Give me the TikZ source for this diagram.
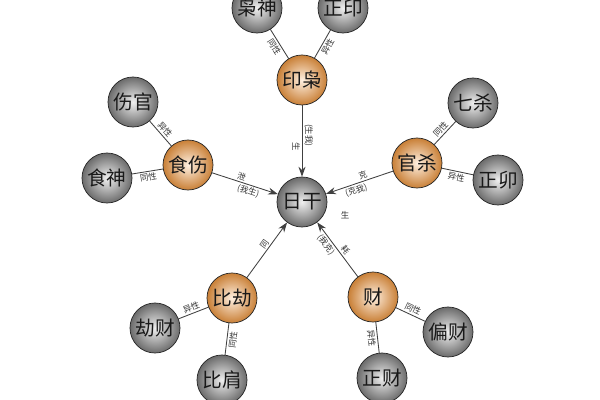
\documentclass[tikz,border=0pt]{standalone}
\usepackage{fontspec}
\newfontfamily\cjk{Noto Sans CJK SC}
\usetikzlibrary{arrows.meta}
\begin{document}
\begin{tikzpicture}[x=0.025cm, y=-0.025cm, font=\cjk, line join=round, line cap=round, >={Stealth[length=7pt,width=5pt]},
  ball/.style={circle, draw=black!85, line width=0.5pt, minimum size=1.25cm, inner sep=0pt, text=black!90, font=\cjk\fontsize{14}{14}\selectfont},
  grey/.style={ball, inner color=black!6, outer color=black!58},
  gold/.style={ball, inner color=orange!12, outer color=brown!85!orange},
  lab/.style={font=\cjk\fontsize{6}{6}\selectfont, text=black!80, inner sep=1.2pt, sloped},
  link/.style={draw=black!75, line width=0.6pt}]
\useasboundingbox (0,0) rectangle (600,400);
\clip (0,0) rectangle (600,400);
\fill[white] (0,0) rectangle (600,400);
% balls
\node[grey] (ri) at (302,202) {日干};
\foreach \n/\p/\t in {yx/{302,80}/印枭, ss/{188,165}/食伤, gs/{417,163}/官杀, bj/{232,298}/比劫, cai/{373,297}/财}
  \node[gold] (\n) at (\p) {\t};
\foreach \n/\p/\t in {xs/{257,8}/枭神, zy/{343,8}/正印, sg/{133,102}/伤官, shen/{107,178}/食神, qs/{473,103}/七杀, zg/{498,180}/正卯, jc/{155,328}/劫财, bjian/{222,380}/比肩, pc/{448,332}/偏财, zc/{382,378}/正财}
  \node[grey] (\n) at (\p) {\t};
% to the day master
\draw[link,->] (yx) -- node[lab, below, pos=0.58]{生} node[lab, above, pos=0.42]{(生我)} (ri);
\draw[link,->] (ss) -- node[lab, above, pos=0.42]{泄} node[lab, below, pos=0.58]{(我生)} (ri);
\draw[link,->] (gs) -- node[lab, above, pos=0.42]{克} node[lab, below, pos=0.58]{(克我)} (ri);
\draw[link,->] (bj) -- node[lab, above, pos=0.55]{同} (ri);
\draw[link,->] (cai) -- node[lab, above, pos=0.42]{耗} node[lab, below, pos=0.66]{(我克)} (ri);
\node[lab, sloped=false] (sheng) at (345,215) {生};
% same and different
\draw[link] (yx) -- node[lab, below]{同性} (xs);
\draw[link] (yx) -- node[lab, below]{异性} (zy);
\draw[link] (ss) -- node[lab, above, pos=0.5]{异性} (sg);
\draw[link] (ss) -- node[lab, below]{同性} (shen);
\draw[link] (gs) -- node[lab, above, pos=0.5]{同性} (qs);
\draw[link] (gs) -- node[lab, below]{异性} (zg);
\draw[link] (bj) -- node[lab, above]{异性} (jc);
\draw[link] (bj) -- node[lab, below]{同性} (bjian);
\draw[link] (cai) -- node[lab, above]{同性} (pc);
\draw[link] (cai) -- node[lab, below]{异性} (zc);
\end{tikzpicture}
\end{document}
